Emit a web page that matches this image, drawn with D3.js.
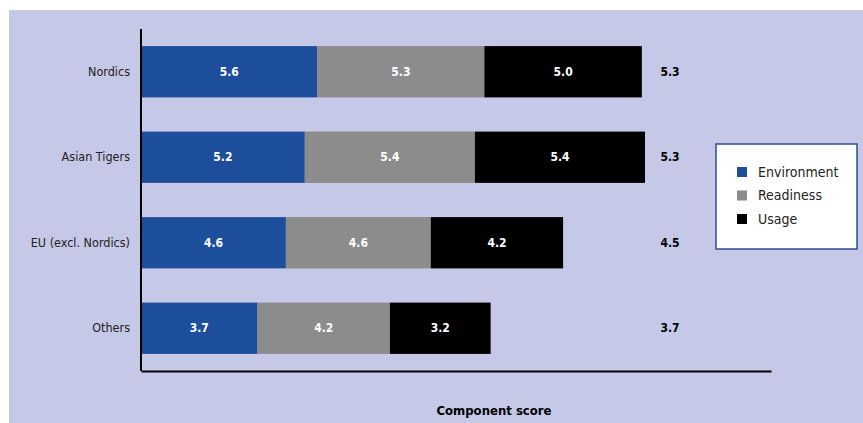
<!DOCTYPE html>
<html>
<head>
<meta charset="utf-8">
<script src="https://cdn.jsdelivr.net/npm/d3@7"></script>
<style>
  body { margin: 0; background: #fff; }
  svg text { font-family: "Liberation Sans Narrow", "Arial Narrow", "DejaVu Sans Condensed", sans-serif; }
</style>
</head>
<body>
<div id="chart"></div>
<script>
// data
const categories = ["Nordics", "Asian Tigers", "EU (excl. Nordics)", "Others"];
const seriesNames = ["Environment", "Readiness", "Usage"];
const environment = [5.6, 5.2, 4.6, 3.7];
const readiness = [5.3, 5.4, 4.6, 4.2];
const usage = [5.0, 5.4, 4.2, 3.2];
const averages = ["5.3", "5.3", "4.5", "3.7"];
const colors = ["#1d4e9c", "#8c8c8c", "#000000"];

const width = 863, height = 423;
const margin = { top: 29, bottom: 52, left: 141, right: 92 };

const svg = d3.select("#chart").append("svg")
  .attr("width", width)
  .attr("height", height);

// background panel
svg.append("rect")
  .attr("x", 9).attr("y", 10)
  .attr("width", width - 9).attr("height", height - 10)
  .attr("fill", "#c5c8e6");

const xScale = d3.scaleLinear()
  .domain([0, 20])
  .range([margin.left, width - margin.right]);

const yScale = d3.scaleBand()
  .domain(categories)
  .range([margin.top, height - margin.bottom])
  .paddingInner(0.4)
  .paddingOuter(0.2);

// stack the series
const rows = categories.map((c, i) => ({
  cat: c, Environment: environment[i], Readiness: readiness[i], Usage: usage[i]
}));
const stacked = d3.stack().keys(seriesNames)(rows);

const groups = svg.append("g").selectAll("g")
  .data(stacked)
  .join("g")
  .attr("fill", (d, i) => colors[i]);

groups.selectAll("rect")
  .data(d => d)
  .join("rect")
  .attr("x", d => xScale(d[0]))
  .attr("y", d => yScale(d.data.cat))
  .attr("width", d => xScale(d[1]) - xScale(d[0]))
  .attr("height", yScale.bandwidth());

// value labels
groups.selectAll("text")
  .data(d => d.map(v => ({ v, key: d.key })))
  .join("text")
  .attr("x", d => (xScale(d.v[0]) + xScale(d.v[1])) / 2)
  .attr("y", d => yScale(d.v.data.cat) + yScale.bandwidth() / 2)
  .attr("dy", "0.35em")
  .attr("text-anchor", "middle")
  .attr("fill", "#fff")
  .attr("font-weight", "bold")
  .attr("font-size", 12)
  .text(d => d.v.data[d.key].toFixed(1));

// averages at right
svg.append("g").selectAll("text")
  .data(categories)
  .join("text")
  .attr("x", 670)
  .attr("y", d => yScale(d) + yScale.bandwidth() / 2)
  .attr("dy", "0.35em")
  .attr("text-anchor", "middle")
  .attr("font-weight", "bold")
  .attr("font-size", 12)
  .attr("fill", "#000")
  .text((d, i) => averages[i]);

// y axis
const yAxis = d3.axisLeft(yScale).tickSize(0).tickPadding(11);
svg.append("g")
  .attr("transform", `translate(${margin.left},0)`)
  .call(yAxis)
  .call(g => g.select(".domain").attr("stroke", "#000").attr("stroke-width", 2).attr("d", `M0,${margin.top}V${height - margin.bottom}`))
  .call(g => g.selectAll("text").attr("font-size", 12.5).attr("fill", "#222"));

// x axis line only
svg.append("g")
  .attr("transform", `translate(0,${height - margin.bottom})`)
  .call(d3.axisBottom(xScale).ticks(0).tickSize(0).tickFormat(""))
  .call(g => g.select(".domain").attr("stroke", "#000").attr("stroke-width", 2));

svg.append("text")
  .attr("x", 494)
  .attr("y", 415)
  .attr("text-anchor", "middle")
  .attr("font-weight", "bold")
  .attr("font-size", 13)
  .text("Component score");

// legend
const legend = svg.append("g").attr("transform", "translate(716,144)");
legend.append("rect")
  .attr("width", 141).attr("height", 105)
  .attr("fill", "#fff")
  .attr("stroke", "#2a4f96")
  .attr("stroke-width", 1.5);
const items = legend.selectAll("g.item")
  .data(seriesNames)
  .join("g")
  .attr("class", "item")
  .attr("transform", (d, i) => `translate(21,${28 + i * 23.5})`);
items.append("rect")
  .attr("y", -5).attr("width", 10).attr("height", 10)
  .attr("fill", (d, i) => colors[i]);
items.append("text")
  .attr("x", 21)
  .attr("dy", "0.35em")
  .attr("font-size", 14)
  .attr("fill", "#222")
  .text(d => d);
</script>
</body>
</html>
